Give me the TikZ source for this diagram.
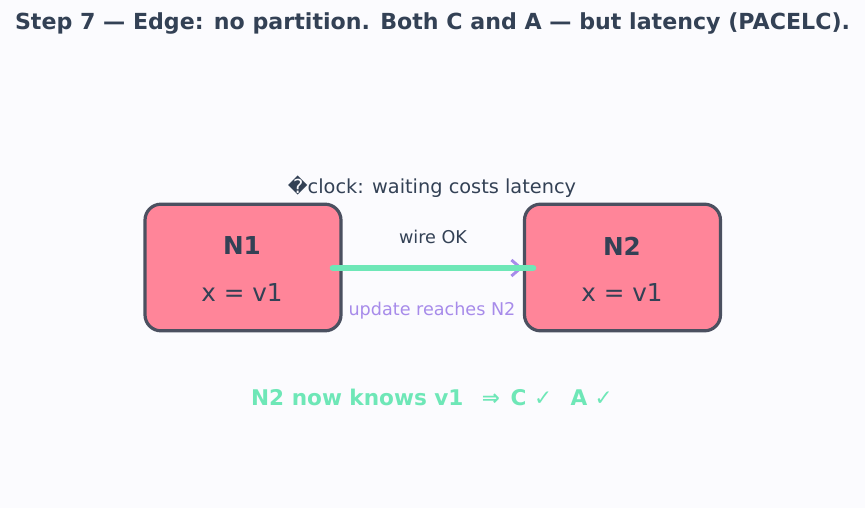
\documentclass[tikz,border=0pt]{standalone}
\usepackage{fontspec}
\setmainfont{DejaVu Sans}
\usepackage{tikz}
\usetikzlibrary{arrows.meta, positioning}
\definecolor{bgcol}{HTML}{FBFBFE}
\definecolor{inkcol}{HTML}{334155}
\definecolor{nodecol}{HTML}{FF8599}
\definecolor{edgecol}{HTML}{4B5060}
\definecolor{mintcol}{HTML}{6EE7B7}
\definecolor{violetcol}{HTML}{A78BEA}
\tikzset{
  px/.style={x=0.75pt, y=-0.75pt},
  nodebox/.style={draw=edgecol, line width=2.4pt, fill=nodecol, rounded corners=12pt,
    minimum width=147pt, minimum height=95pt},
  label/.style={inner sep=0pt, text=inkcol}
}
\begin{document}
\begin{tikzpicture}[px]
		\fill[bgcol](0,0) rectangle (865,508);
		\useasboundingbox (0,0) rectangle (865,508);
		\node[label, font=\bfseries\fontsize{16.6}{20}\selectfont] (title) at (432.5,23) {Step 7 — Edge: no partition. Both C and A — but latency (PACELC).};
		% the two replicas
		\node[nodebox] (n1) at (243,267.5) {};
		\node[nodebox] (n2) at (622.5,267.5) {};
		\node[label, font=\bfseries\fontsize{18.5}{22}\selectfont] (n1name) at (242,246) {N1};
		\node[label, font=\fontsize{18.5}{22}\selectfont] (n1val) at (242,293) {x = v1};
		\node[label, font=\bfseries\fontsize{18.5}{22}\selectfont] (n2name) at (622,246) {N2};
		\node[label, font=\fontsize{18.5}{22}\selectfont] (n2val) at (622,293) {x = v1};
		% replication link
		\coordinate (wa) at (333,268);
		\coordinate (wb) at (523,268);
		\draw[-{Straight Barb[length=7pt,width=12pt,line width=2.2pt]}, line width=2.2pt, violetcol] (wa)--(wb);
		\draw[line width=5pt, line cap=round, mintcol] (wa)--(533,268);
		\node[label, font=\fontsize{13.2}{16}\selectfont] (wire) at (433,237) {wire OK};
		\node[label, text=violetcol, font=\fontsize{13.2}{16}\selectfont] (upd) at (432,311) {update reaches N2};
		\node[label, font=\fontsize{14.5}{17}\selectfont] (clock) at (432,187) {�clock: waiting costs latency};
		\node[label, text=mintcol, font=\bfseries\fontsize{16.2}{19}\selectfont] (verdict) at (432,397) {N2 now knows v1 \enspace⇒\enspace C {\mdseries ✓} \enspace A {\mdseries ✓}};
	\end{tikzpicture}
\end{document}
